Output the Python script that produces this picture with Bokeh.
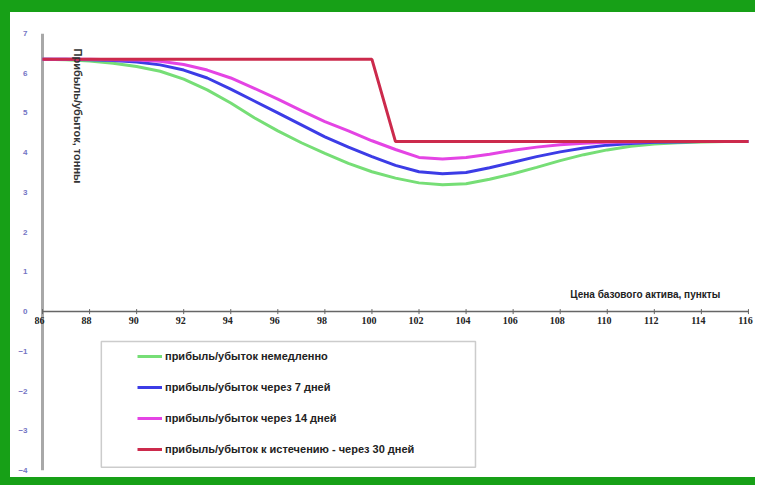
import math
from bokeh.plotting import figure
from bokeh.models import (Range1d, Legend, LegendItem, Label, LabelSet, BoxAnnotation,
                          FixedTicker, ColumnDataSource, Span)
from bokeh.embed import file_html
from bokeh.resources import INLINE

# ---- data ----
price = list(range(86, 117))
pnl_now = [6.35, 6.34, 6.31, 6.25, 6.17, 6.05, 5.85, 5.58, 5.25, 4.88, 4.55, 4.25, 3.98, 3.73,
           3.52, 3.36, 3.24, 3.19, 3.22, 3.33, 3.47, 3.63, 3.80, 3.95, 4.07, 4.16, 4.22, 4.25,
           4.27, 4.28, 4.28]
pnl_7d = [6.35, 6.35, 6.34, 6.32, 6.28, 6.21, 6.08, 5.88, 5.60, 5.30, 5.00, 4.70, 4.40, 4.14,
          3.90, 3.68, 3.52, 3.47, 3.50, 3.62, 3.76, 3.90, 4.02, 4.12, 4.19, 4.23, 4.26, 4.27,
          4.28, 4.28, 4.28]
pnl_14d = [6.35, 6.35, 6.35, 6.34, 6.33, 6.30, 6.22, 6.08, 5.88, 5.62, 5.35, 5.06, 4.78, 4.55,
           4.30, 4.08, 3.88, 3.84, 3.88, 3.96, 4.06, 4.14, 4.20, 4.24, 4.26, 4.27, 4.28, 4.28,
           4.28, 4.28, 4.28]
expiry_price = [86, 100, 101, 116]
pnl_expiry = [6.35, 6.35, 4.28, 4.28]

x_ticks = list(range(86, 117, 2))
x_tick_labels = [str(t) for t in x_ticks]
y_ticks = list(range(-4, 8))

series_names = [
    "прибыль/убыток немедленно",
    "прибыль/убыток через 7 дней",
    "прибыль/убыток через 14 дней",
    "прибыль/убыток к истечению - через 30 дней",
]
y_title = "Прибыль/убыток, тонны"
x_title = "Цена базового актива, пункты"

FONT = "Liberation Sans"
GREEN_FRAME = "#17a017"

p = figure(width=745, height=465, output_backend="svg", toolbar_location=None,
           x_range=Range1d(85.66, 116.30), y_range=Range1d(-4, 7),
           min_border_left=24, min_border_right=10, min_border_top=21, min_border_bottom=27,
           background_fill_color="white", border_fill_color="white",
           styles={"border-left": f"10px solid {GREEN_FRAME}",
                   "border-top": f"12px solid {GREEN_FRAME}",
                   "border-bottom": f"8px solid {GREEN_FRAME}",
                   "box-sizing": "content-box"})
p.outline_line_color = None
p.grid.visible = False

# y axis line at x = 86 (under the data)
p.add_layout(Span(location=x_ticks[0], dimension="height", line_color="#a8a8a8",
                  line_width=3, level="underlay"))

# x axis drawn along y = 0
p.xaxis.visible = False
p.line([x_ticks[0], x_ticks[-1]], [0, 0], line_color="#666666", line_width=1.5)
p.scatter(x_ticks, [0] * len(x_ticks), marker="dash", angle=math.pi / 2, size=5,
          line_color="#666666", line_width=1)
p.add_layout(LabelSet(x="x", y="y", text="t",
                      source=ColumnDataSource(dict(x=x_ticks, y=[0] * len(x_ticks),
                                                   t=x_tick_labels)),
                      x_offset=-3, y_offset=-5, text_align="center", text_baseline="top",
                      text_font=FONT, text_font_size="10px", text_font_style="bold",
                      text_color="#222222"))

# y axis labels
p.yaxis.ticker = FixedTicker(ticks=y_ticks)
p.yaxis.axis_line_color = None
p.yaxis.major_tick_line_color = None
p.yaxis.minor_tick_line_color = None
p.yaxis.major_label_text_font = FONT
p.yaxis.major_label_text_font_size = "8px"
p.yaxis.major_label_text_font_style = "bold"
p.yaxis.major_label_text_color = "#7474c4"
p.yaxis.major_label_standoff = 1

# lines
r_now = p.line(price, pnl_now, line_color="#76de76", line_width=3)
r_7 = p.line(price, pnl_7d, line_color="#3c3ce6", line_width=3)
r_14 = p.line(price, pnl_14d, line_color="#e444e4", line_width=3)
r_exp = p.line(expiry_price, pnl_expiry, line_color="#cc2a4c", line_width=3)

# titles
p.add_layout(Label(x=87.5, y=6.62, text=y_title, angle=-math.pi / 2,
                   text_align="left", text_baseline="middle",
                   text_font=FONT, text_font_size="11px", text_font_style="bold",
                   text_color="#333333"))
p.add_layout(Label(x=114.8, y=0.3, text=x_title, text_align="right", text_baseline="bottom",
                   text_font=FONT, text_font_size="10px", text_font_style="bold",
                   text_color="#222222"))

# legend box
p.add_layout(BoxAnnotation(left=88.5, right=104.4, top=-0.75, bottom=-3.92,
                           fill_color="white", fill_alpha=1.0,
                           line_color="#555555", line_width=1.5))

legend = Legend(items=[LegendItem(label=series_names[0], renderers=[r_now]),
                       LegendItem(label=series_names[1], renderers=[r_7]),
                       LegendItem(label=series_names[2], renderers=[r_14]),
                       LegendItem(label=series_names[3], renderers=[r_exp])],
                location=(103, 11), padding=5, spacing=11, glyph_width=25, glyph_height=20,
                label_height=20, label_standoff=3,
                label_text_font=FONT, label_text_font_size="11px",
                label_text_font_style="bold", label_text_color="#222222",
                border_line_color=None, background_fill_alpha=0)
p.add_layout(legend, "center")

open("out.html", "w").write(file_html(p, INLINE))
